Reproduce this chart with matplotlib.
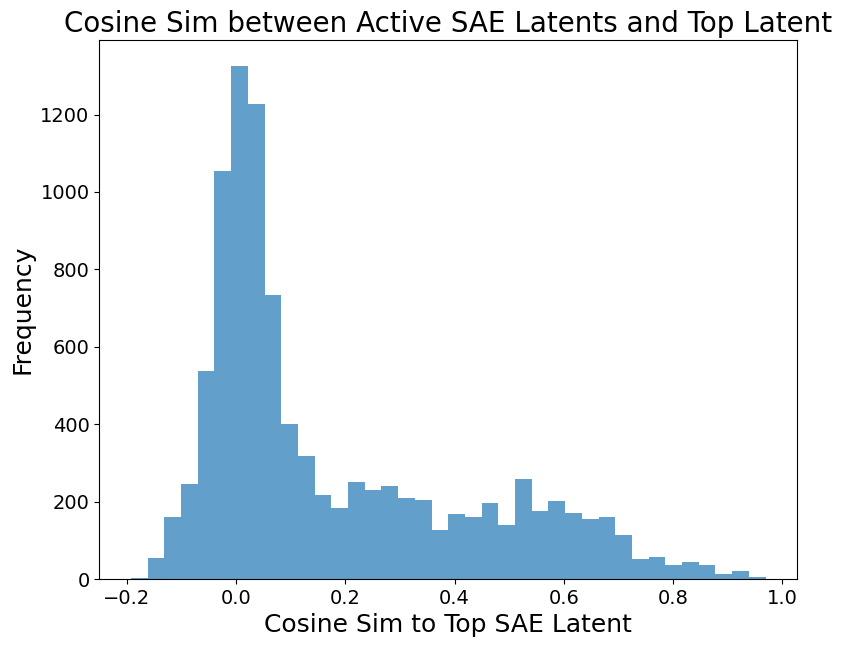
import numpy as np
import matplotlib.pyplot as plt

# Histogram data
bin_min = -0.192
bin_max = 0.969
n_bins = 38
counts = np.array([3, 54, 160, 245, 537, 1053, 1326, 1226, 733, 400,
                   317, 217, 183, 250, 230, 240, 209, 204, 127, 168,
                   160, 196, 139, 258, 175, 201, 170, 155, 160, 113,
                   52, 57, 36, 44, 36, 13, 21, 5])

edges = np.linspace(bin_min, bin_max, n_bins + 1)
centers = (edges[:-1] + edges[1:]) / 2

fig = plt.figure(figsize=(8.41, 6.47), dpi=100)
ax = fig.add_axes([0.118, 0.105, 0.83, 0.833])
ax.hist(centers, bins=edges, weights=counts, alpha=0.7)
ax.set_title('Cosine Sim between Active SAE Latents and Top Latent', fontsize=20)
ax.set_xlabel('Cosine Sim to Top SAE Latent', fontsize=18)
ax.set_ylabel('Frequency', fontsize=18)
ax.tick_params(labelsize=14)

plt.savefig('out.png')
